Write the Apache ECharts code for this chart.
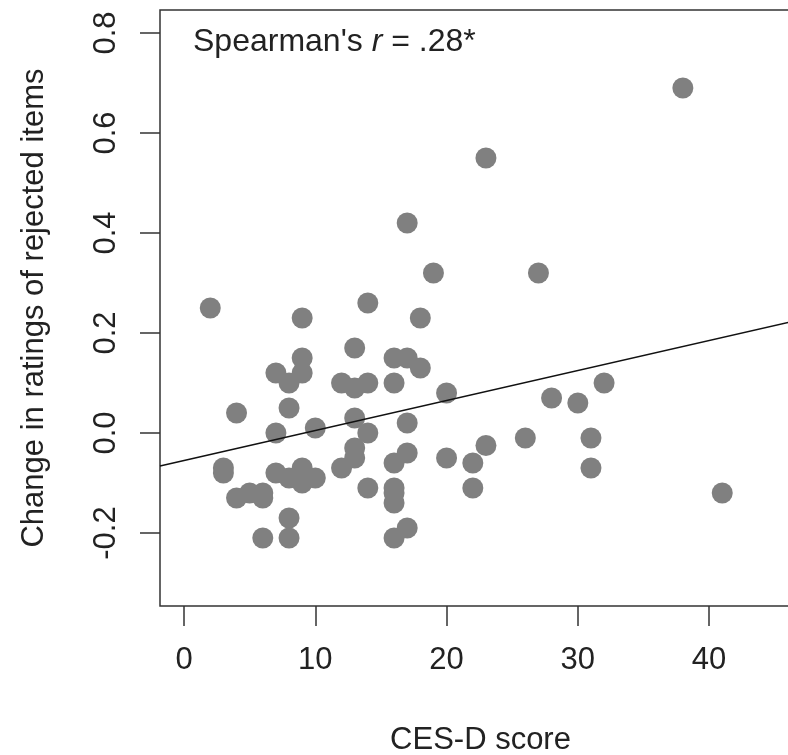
<!DOCTYPE html>
<html>
<head>
<meta charset="utf-8">
<script src="https://cdn.jsdelivr.net/npm/echarts@6/dist/echarts.min.js"></script>
<style>
  html, body { margin: 0; padding: 0; background: #fff; }
  #chart { width: 788px; height: 755px; }
</style>
</head>
<body>
<div id="chart"></div>
<script>
// CES-D score (x) and change in ratings of rejected items (y)
const cesdScores = [
  2, 38, 23, 17, 19, 27, 14, 9, 18, 13,
  9, 16, 17, 18, 7, 9, 8, 12, 13, 14,
  16, 20, 32, 28, 30, 4, 8, 13, 10, 17,
  7, 14, 26, 31, 3, 3, 13, 13, 17, 16,
  23, 20, 22, 12, 31, 7, 8, 9, 9, 10,
  4, 5, 6, 6, 14, 16, 16, 16, 22, 41,
  8, 17, 6, 8, 16
]
const ratingChange = [
  0.25, 0.69, 0.55, 0.42, 0.32, 0.32, 0.26, 0.23, 0.23, 0.17,
  0.15, 0.15, 0.15, 0.13, 0.12, 0.12, 0.10, 0.10, 0.09, 0.10,
  0.10, 0.08, 0.10, 0.07, 0.06, 0.04, 0.05, 0.03, 0.01, 0.02,
  0.00, 0.00, -0.01, -0.01, -0.07, -0.08, -0.03, -0.05, -0.04, -0.06,
  -0.025, -0.05, -0.06, -0.07, -0.07, -0.08, -0.09, -0.07, -0.10, -0.09,
  -0.13, -0.12, -0.12, -0.13, -0.11, -0.11, -0.12, -0.14, -0.11, -0.12,
  -0.17, -0.19, -0.21, -0.21, -0.21
]
// fitted line (intercept, slope) as drawn in the figure
const fitIntercept = -0.055
const fitSlope = 0.006

const xTicks = [0, 10, 20, 30, 40]
const yTicks = [-0.2, 0, 0.2, 0.4, 0.6, 0.8]
const yTickLabels = ['-0.2', '0.0', '0.2', '0.4', '0.6', '0.8']

const xMin = -1.83
const xMax = 47
const yMin = -0.346
const yMax = 0.846

const font = 'Liberation Sans, Arial, sans-serif'
const textColor = '#222'

const points = cesdScores.map((x, i) => [x, ratingChange[i]])
const fitLine = [
  [xMin, fitIntercept + fitSlope * xMin],
  [xMax, fitIntercept + fitSlope * xMax]
]

const chart = echarts.init(document.getElementById('chart'))
chart.setOption({
  animation: false,
  backgroundColor: '#fff',
  title: {
    left: 188,
    top: 21,
    text: "{a|Spearman's }{i|r}{a| = .28*}",
    textStyle: {
      fontWeight: 'normal',
      rich: {
        a: { fontFamily: font, fontSize: 32, fontWeight: 'normal', color: textColor },
        i: { fontFamily: font, fontSize: 32, fontWeight: 'normal', color: textColor, fontStyle: 'italic' }
      }
    }
  },
  grid: {
    left: 160,
    top: 10,
    width: 641,
    height: 596,
    show: true,
    borderColor: '#333',
    borderWidth: 1.5,
    containLabel: false,
    outerBoundsMode: 'none'
  },
  xAxis: {
    type: 'value',
    min: xMin,
    max: xMax,
    name: 'CES-D score',
    nameLocation: 'middle',
    nameGap: 119,
    nameTextStyle: { fontFamily: font, fontSize: 31, color: textColor },
    axisLine: { show: false, onZero: false },
    splitLine: { show: false },
    axisTick: {
      show: true,
      inside: false,
      length: 20,
      customValues: xTicks,
      lineStyle: { color: '#333', width: 1.5 }
    },
    axisLabel: {
      customValues: xTicks,
      margin: 39,
      fontFamily: font,
      fontSize: 31,
      color: textColor
    }
  },
  yAxis: {
    type: 'value',
    min: yMin,
    max: yMax,
    name: 'Change in ratings of rejected items',
    nameLocation: 'middle',
    nameGap: 110,
    nameTextStyle: { fontFamily: font, fontSize: 31, color: textColor },
    axisLine: { show: false, onZero: false },
    splitLine: { show: false },
    axisTick: {
      show: true,
      inside: false,
      length: 20,
      customValues: yTicks,
      lineStyle: { color: '#333', width: 1.5 }
    },
    axisLabel: {
      customValues: yTicks,
      rotate: 90,
      margin: 38,
      fontFamily: font,
      fontSize: 31,
      color: textColor,
      formatter: v => yTickLabels[yTicks.findIndex(t => Math.abs(t - v) < 1e-9)]
    }
  },
  series: [
    {
      type: 'scatter',
      data: points,
      symbol: 'circle',
      symbolSize: 21,
      itemStyle: { color: '#808080', opacity: 1 },
      z: 2
    },
    {
      type: 'line',
      data: fitLine,
      showSymbol: false,
      symbol: 'none',
      lineStyle: { color: '#111', width: 1.6 },
      z: 3
    }
  ]
})
</script>
</body>
</html>
